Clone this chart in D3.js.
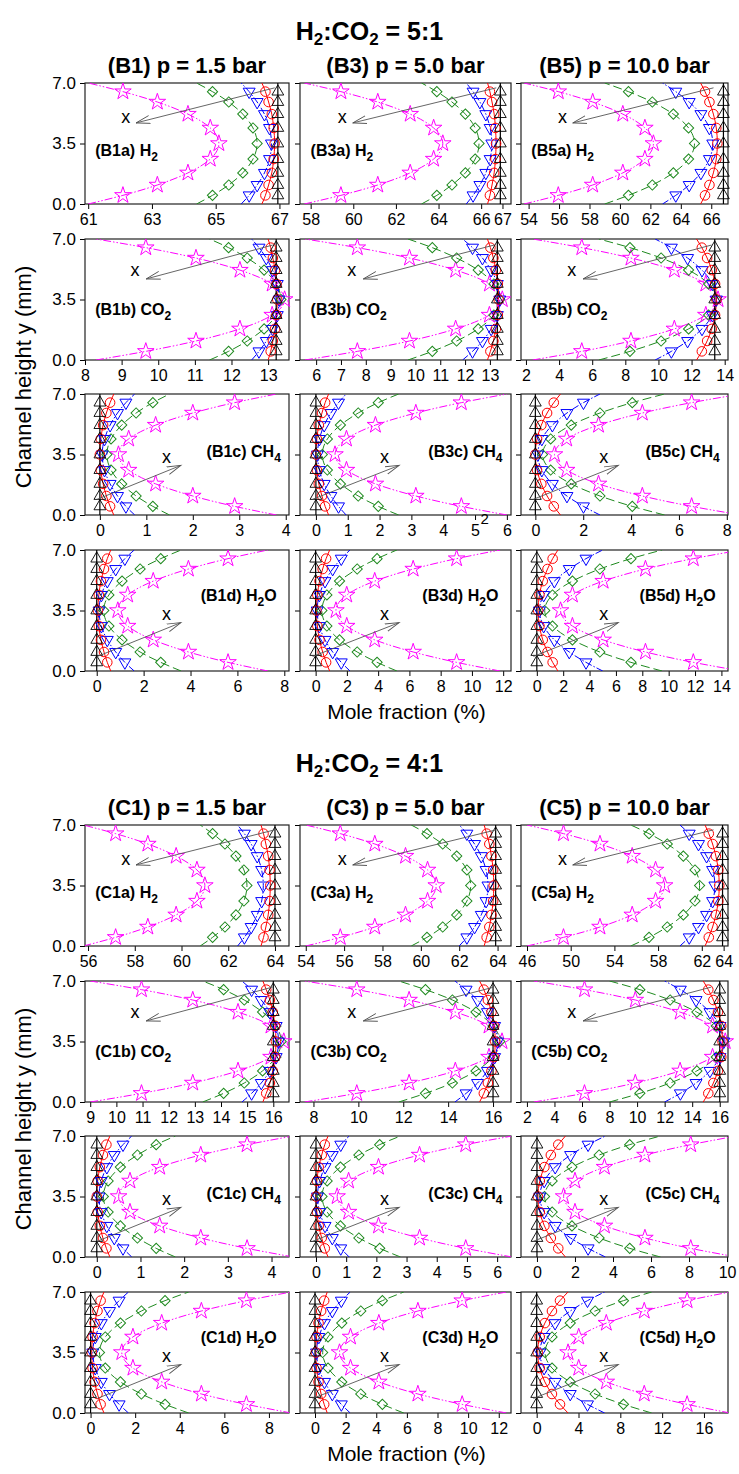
<!DOCTYPE html>
<html>
<head>
<meta charset="utf-8">
<script src="https://cdn.jsdelivr.net/npm/d3@7"></script>
<style>
  body { margin: 0; background: #fff; }
  text { font-family: "Liberation Sans", Arial, sans-serif; }
</style>
</head>
<body>
<div id="chart"></div>
<script>
// distance from the wall (mm), wall -> channel centre; profiles are mirrored about y = 3.5
var yDist = [0, 0.5, 1.1, 1.8, 2.6, 3.5];
var channelHeight = 7;

var ratios = ["5:1", "4:1"];
var groupLetters = ["B", "C"];
var pressures = ["1.5", "5.0", "10.0"];
var pressureIds = ["1", "3", "5"];
var rowLetters = ["a", "b", "c", "d"];
var species = [["H", "2", ""], ["CO", "2", ""], ["CH", "4", ""], ["H", "2", "O"]];

// x axis ranges and ticks [row][column]
var xDomainB = [
  [[60.9, 67.3], [57.5, 67.4], [53.5, 67.1]],
  [[8.0, 13.57], [5.35, 13.85], [1.7, 14.2]],
  [[-0.32, 4.07], [-0.5, 6.13], [-0.6, 8.05]],
  [[-0.5, 8.2], [-1.0, 12.5], [-1.2, 14.5]]
];
var xTicksB = [
  [[61, 63, 65, 67], [58, 60, 62, 64, 66, 67], [54, 56, 58, 60, 62, 64, 66]],
  [[8, 9, 10, 11, 12, 13], [6, 7, 8, 9, 10, 11, 12, 13], [2, 4, 6, 8, 10, 12, 14]],
  [[0, 1, 2, 3, 4], [0, 1, 2, 3, 4, 5, 6], [0, 2, 4, 6, 8]],
  [[0, 2, 4, 6, 8], [0, 2, 4, 6, 8, 10, 12], [0, 2, 4, 6, 8, 10, 12, 14]]
];
var xDomainC = [
  [[55.87, 64.6], [53.7, 64.7], [45.45, 64.4]],
  [[8.8, 16.6], [7.4, 16.8], [1.57, 16.6]],
  [[-0.27, 4.4], [-0.53, 6.46], [-0.84, 10.05]],
  [[-0.25, 8.9], [-0.98, 12.8], [-1.5, 18.3]]
];
var xTicksC = [
  [[56, 58, 60, 62, 64], [54, 56, 58, 60, 62, 64], [46, 50, 54, 58, 62, 64]],
  [[9, 10, 11, 12, 13, 14, 15, 16], [8, 10, 12, 14, 16], [2, 4, 6, 8, 10, 12, 14, 16]],
  [[0, 1, 2, 3, 4], [0, 1, 2, 3, 4, 5, 6], [0, 2, 4, 6, 8, 10]],
  [[0, 2, 4, 6, 8], [0, 2, 4, 6, 8, 10, 12], [0, 4, 8, 12, 16]]
];

// inlet composition (black line)
var inletB = [[66.95, 66.9, 66.8], [13.22, 13.3, 13.4], [0, 0, 0], [0, 0, 0]];
var inletC = [[64.0, 63.9, 63.9], [16.0, 16.0, 16.0], [0, 0, 0], [0, 0, 0]];

// profiles along x: red, blue, green, magenta  (values at yDist)
var B1a = [[66.45, 66.56, 66.66, 66.76, 66.82, 66.85], [65.8, 66.05, 66.3, 66.53, 66.69, 66.75], [64.4, 64.9, 65.41, 65.85, 66.17, 66.3], [61.0, 62.09, 63.17, 64.13, 64.83, 65.1]];
var B3a = [[66.3, 66.41, 66.51, 66.61, 66.67, 66.7], [65.3, 65.62, 65.94, 66.22, 66.42, 66.5], [63.2, 63.92, 64.63, 65.26, 65.72, 65.9], [57.7, 59.42, 61.15, 62.67, 63.77, 64.2]];
var B5a = [[65.3, 65.59, 65.88, 66.14, 66.33, 66.4], [62.8, 63.67, 64.55, 65.32, 65.88, 66.1], [59.0, 60.56, 62.13, 63.51, 64.51, 64.9], [53.7, 55.95, 58.21, 60.19, 61.64, 62.2]];
var B1b = [[13.0, 13.07, 13.13, 13.19, 13.23, 13.25], [12.55, 12.75, 12.95, 13.12, 13.25, 13.3], [11.4, 11.92, 12.43, 12.89, 13.22, 13.35], [8.3, 9.66, 11.03, 12.23, 13.11, 13.45]];
var B3b = [[12.9, 13.02, 13.14, 13.24, 13.32, 13.35], [11.9, 12.3, 12.7, 13.05, 13.3, 13.4], [9.7, 10.68, 11.66, 12.53, 13.16, 13.4], [5.55, 7.66, 9.76, 11.62, 12.98, 13.5]];
var B5b = [[12.3, 12.62, 12.94, 13.22, 13.42, 13.5], [9.8, 10.78, 11.76, 12.63, 13.26, 13.5], [6.4, 8.28, 10.16, 11.82, 13.03, 13.5], [2.4, 5.37, 8.34, 10.96, 12.86, 13.6]];
var B1c = [[0.3, 0.22, 0.14, 0.07, 0.02, 0], [0.75, 0.56, 0.38, 0.22, 0.1, 0.05], [1.5, 1.14, 0.78, 0.47, 0.24, 0.15], [3.8, 2.9, 2.0, 1.2, 0.62, 0.4]];
var B3c = [[0.4, 0.29, 0.19, 0.09, 0.03, 0], [0.95, 0.71, 0.47, 0.26, 0.11, 0.05], [2.6, 1.96, 1.33, 0.77, 0.36, 0.2], [6.0, 4.57, 3.14, 1.87, 0.96, 0.6]];
var B5c = [[1.05, 0.77, 0.49, 0.25, 0.07, 0], [2.7, 2.01, 1.32, 0.71, 0.27, 0.1], [5.4, 4.05, 2.7, 1.5, 0.64, 0.3], [8.6, 6.53, 4.47, 2.64, 1.31, 0.8]];
var B1d = [[0.6, 0.45, 0.31, 0.18, 0.09, 0.05], [1.6, 1.2, 0.81, 0.45, 0.2, 0.1], [3.6, 2.73, 1.85, 1.08, 0.52, 0.3], [7.3, 5.6, 3.91, 2.41, 1.32, 0.9]];
var B3d = [[0.9, 0.67, 0.45, 0.25, 0.11, 0.05], [2.2, 1.64, 1.09, 0.6, 0.24, 0.1], [5.2, 3.93, 2.66, 1.53, 0.72, 0.4], [11.8, 9.02, 6.24, 3.78, 1.99, 1.3]];
var B5d = [[1.6, 1.2, 0.81, 0.45, 0.2, 0.1], [5.0, 3.73, 2.46, 1.33, 0.52, 0.2], [9.5, 7.14, 4.78, 2.7, 1.19, 0.6], [15.5, 11.87, 8.24, 5.03, 2.7, 1.8]];

var C1a = [[63.4, 63.51, 63.61, 63.71, 63.77, 63.8], [62.4, 62.69, 62.98, 63.24, 63.43, 63.5], [60.8, 61.33, 61.86, 62.33, 62.67, 62.8], [55.8, 57.18, 58.56, 59.77, 60.66, 61.0]];
var C3a = [[63.3, 63.43, 63.57, 63.68, 63.77, 63.8], [62.0, 62.4, 62.8, 63.15, 63.4, 63.5], [59.5, 60.32, 61.14, 61.87, 62.4, 62.6], [54.0, 55.8, 57.6, 59.2, 60.35, 60.8]];
var C5a = [[62.3, 62.64, 62.99, 63.29, 63.51, 63.6], [60.0, 60.85, 61.7, 62.44, 62.99, 63.2], [55.5, 57.17, 58.84, 60.31, 61.38, 61.8], [46.0, 49.34, 52.68, 55.63, 57.77, 58.6]];
var C1b = [[15.6, 15.73, 15.87, 15.98, 16.07, 16.1], [14.8, 15.17, 15.54, 15.87, 16.11, 16.2], [13.3, 14.1, 14.89, 15.59, 16.1, 16.3], [9.0, 10.96, 12.92, 14.65, 15.91, 16.4]];
var C3b = [[15.4, 15.59, 15.77, 15.93, 16.05, 16.1], [14.3, 14.8, 15.31, 15.75, 16.07, 16.2], [11.8, 12.99, 14.19, 15.24, 16.0, 16.3], [7.6, 9.93, 12.26, 14.32, 15.82, 16.4]];
var C5b = [[14.8, 15.17, 15.54, 15.87, 16.11, 16.2], [12.0, 13.14, 14.28, 15.29, 16.02, 16.3], [8.0, 10.2, 12.4, 14.34, 15.75, 16.3], [2.5, 6.18, 9.87, 13.12, 15.48, 16.4]];
var C1c = [[0.3, 0.22, 0.14, 0.07, 0.02, 0], [0.8, 0.6, 0.4, 0.23, 0.1, 0.05], [1.8, 1.36, 0.93, 0.54, 0.26, 0.15], [4.5, 3.44, 2.38, 1.44, 0.76, 0.5]];
var C3c = [[0.4, 0.29, 0.19, 0.09, 0.03, 0], [1.1, 0.82, 0.54, 0.3, 0.12, 0.05], [2.8, 2.11, 1.42, 0.81, 0.37, 0.2], [6.5, 4.96, 3.43, 2.07, 1.08, 0.7]];
var C5c = [[1.5, 1.12, 0.73, 0.39, 0.15, 0.05], [3.6, 2.69, 1.77, 0.96, 0.38, 0.15], [6.5, 4.88, 3.27, 1.84, 0.8, 0.4], [10.5, 8.09, 5.68, 3.55, 2.0, 1.4]];
var C1d = [[0.6, 0.45, 0.31, 0.18, 0.09, 0.05], [1.7, 1.28, 0.85, 0.48, 0.21, 0.1], [4.4, 3.34, 2.28, 1.34, 0.66, 0.4], [9.0, 6.99, 4.97, 3.19, 1.9, 1.4]];
var C3d = [[0.8, 0.6, 0.4, 0.23, 0.1, 0.05], [2.3, 1.72, 1.13, 0.62, 0.25, 0.1], [5.8, 4.4, 2.99, 1.75, 0.85, 0.5], [12.5, 9.61, 6.72, 4.17, 2.32, 1.6]];
var C5d = [[3.0, 2.23, 1.46, 0.78, 0.29, 0.1], [6.5, 4.86, 3.21, 1.76, 0.71, 0.3], [11.0, 8.3, 5.59, 3.21, 1.47, 0.8], [18.5, 14.39, 10.29, 6.66, 4.02, 3.0]];

var profilesB = [[B1a, B3a, B5a], [B1b, B3b, B5b], [B1c, B3c, B5c], [B1d, B3d, B5d]];
var profilesC = [[C1a, C3a, C5a], [C1b, C3b, C5b], [C1c, C3c, C5c], [C1d, C3d, C5d]];

var groups = [
  { domains: xDomainB, ticks: xTicksB, inlet: inletB, profiles: profilesB },
  { domains: xDomainC, ticks: xTicksC, inlet: inletC, profiles: profilesC }
];

// ---- layout ----
var W = 739, H = 1474;
var colX = [[85, 289], [300, 511], [521, 728]];
var rowTop = [83, 239, 394, 550];
var panelH = 121;
var groupShift = [0, 742];
var titleY = [40, 772];

// arrow [tailX, tailY, headX, headY, labelX, labelY] as panel fractions
var arrowSpec = [
  [0.93, 0.04, 0.25, 0.33, 0.2, 0.28],
  [0.92, 0.05, 0.3, 0.33, 0.245, 0.26],
  [0.06, 0.87, 0.47, 0.59, 0.4, 0.52],
  [0.06, 0.88, 0.47, 0.6, 0.4, 0.53]
];
var labelSpec = [["start", 0.05, 0.6], ["start", 0.05, 0.63], ["end", 0.96, 0.52], ["end", 0.94, 0.42]];

var seriesStyle = [
  { color: "#ff0000", dash: null, sym: d3.symbolCircle, size: 72, rot: 0 },
  { color: "#0000ff", dash: "7,2,1.5,2", sym: d3.symbolTriangle, size: 62, rot: 180 },
  { color: "#1f8a1f", dash: "9,4", sym: d3.symbolSquare, size: 52, rot: 45 },
  { color: "#ff00ff", dash: "8,2,1.5,2,1.5,2", sym: d3.symbolStar, size: 85, rot: 0 }
];

var svg = d3.select("#chart").append("svg")
  .attr("width", W)
  .attr("height", H)
  .style("background", "#fff");

var defs = svg.append("defs");
defs.append("marker")
  .attr("id", "arrowHead")
  .attr("markerUnits", "userSpaceOnUse")
  .attr("markerWidth", 16).attr("markerHeight", 10)
  .attr("refX", 14).attr("refY", 5)
  .attr("orient", "auto")
  .append("path")
  .attr("d", "M0,1 L14,5 L0,9")
  .attr("fill", "none")
  .attr("stroke", "#555")
  .attr("stroke-width", 0.9);

function chemText(sel, prefix, sp, subSize) {
  sel.append("tspan").text(prefix + sp[0]);
  sel.append("tspan").attr("dy", 5).attr("font-size", subSize).text(sp[1]);
  if (sp[2]) sel.append("tspan").attr("dy", -5).text(sp[2]);
}

groups.forEach(function(grp, gi) {
  var sh = groupShift[gi];

  // group title
  var t = svg.append("text")
    .attr("x", W / 2).attr("y", titleY[gi])
    .attr("text-anchor", "middle")
    .attr("font-size", 25).attr("font-weight", "bold");
  t.append("tspan").text("H");
  t.append("tspan").attr("dy", 5).attr("font-size", 17).text("2");
  t.append("tspan").attr("dy", -5).text(":CO");
  t.append("tspan").attr("dy", 5).attr("font-size", 17).text("2");
  t.append("tspan").attr("dy", -5).text(" = " + ratios[gi]);

  // column titles
  pressures.forEach(function(p, c) {
    svg.append("text")
      .attr("x", (colX[c][0] + colX[c][1]) / 2)
      .attr("y", rowTop[0] + sh - 10)
      .attr("text-anchor", "middle")
      .attr("font-size", 22).attr("font-weight", "bold")
      .text("(" + groupLetters[gi] + pressureIds[c] + ") p = " + p + " bar");
  });

  // axis titles
  var midY = (rowTop[0] + rowTop[3] + panelH) / 2 + sh;
  svg.append("text")
    .attr("transform", "translate(31," + midY + ") rotate(-90)")
    .attr("text-anchor", "middle")
    .attr("font-size", 22)
    .text("Channel height y (mm)");
  svg.append("text")
    .attr("x", (colX[0][0] + colX[2][1]) / 2)
    .attr("y", rowTop[3] + panelH + sh + 48)
    .attr("text-anchor", "middle")
    .attr("font-size", 21)
    .text("Mole fraction (%)");

  for (var r = 0; r < 4; r++) {
    for (var c = 0; c < 3; c++) {
      drawPanel(gi, r, c);
    }
  }
});

function drawPanel(gi, r, c) {
  var grp = groups[gi];
  var x0 = colX[c][0], x1 = colX[c][1];
  var top = rowTop[r] + groupShift[gi];
  var bot = top + panelH;
  var xs = d3.scaleLinear().domain(grp.domains[r][c]).range([x0, x1]);
  var ys = d3.scaleLinear().domain([0, channelHeight]).range([bot, top]);

  var clipId = "clip" + gi + r + c;
  defs.append("clipPath").attr("id", clipId)
    .append("rect")
    .attr("x", x0).attr("y", top)
    .attr("width", x1 - x0).attr("height", panelH);

  var g = svg.append("g");

  // x axis
  var xa = g.append("g")
    .attr("transform", "translate(0," + bot + ")")
    .call(d3.axisBottom(xs).tickValues(grp.ticks[r][c]).tickSize(5).tickPadding(5).tickFormat(d3.format("d")));
  xa.select(".domain").remove();
  xa.selectAll("text").attr("font-size", 16).attr("font-family", "Liberation Sans, Arial, sans-serif");

  // y axis
  var ya = g.append("g")
    .attr("transform", "translate(" + x0 + ",0)")
    .call(d3.axisLeft(ys).tickValues([0, 3.5, 7]).tickSize(5).tickPadding(4)
      .tickFormat(c === 0 ? d3.format(".1f") : function() { return ""; }));
  ya.select(".domain").remove();
  ya.selectAll("text").attr("font-size", 17).attr("font-family", "Liberation Sans, Arial, sans-serif");

  // frame
  g.append("rect")
    .attr("x", x0).attr("y", top)
    .attr("width", x1 - x0).attr("height", panelH)
    .attr("fill", "none")
    .attr("stroke", "#222")
    .attr("stroke-width", 1.2);

  var plot = g.append("g").attr("clip-path", "url(#" + clipId + ")");
  var line = d3.line()
    .x(function(d) { return xs(d[0]); })
    .y(function(d) { return ys(d[1]); })
    .curve(d3.curveNatural);

  var prof = grp.profiles[r][c];
  // magenta first so black/red sit on top
  for (var s = 3; s >= 0; s--) {
    var vals = prof[s];
    var st = seriesStyle[s];
    var pts = yDist.map(function(d, i) { return [vals[i], d]; });
    var upper = yDist.slice(0, -1).map(function(d, i) { return [vals[i], channelHeight - d]; }).reverse();
    var all = pts.concat(upper);

    plot.append("path")
      .attr("d", line(all))
      .attr("fill", "none")
      .attr("stroke", st.color)
      .attr("stroke-width", 1)
      .attr("stroke-dasharray", st.dash);

    var sym = d3.symbol().type(st.sym).size(st.size);
    all.filter(function(p) { return p[1] > 0 && p[1] < channelHeight; }).forEach(function(p) {
      g.append("path")
        .attr("d", sym())
        .attr("transform", "translate(" + xs(p[0]) + "," + ys(p[1]) + ") rotate(" + st.rot + ")")
        .attr("fill", "none")
        .attr("stroke", st.color)
        .attr("stroke-width", 1);
    });
  }

  // inlet (black)
  var inlet = grp.inlet[r][c];
  plot.append("line")
    .attr("x1", xs(inlet)).attr("x2", xs(inlet))
    .attr("y1", ys(0)).attr("y2", ys(channelHeight))
    .attr("stroke", "#000").attr("stroke-width", 1.2);
  var tri = d3.symbol().type(d3.symbolTriangle).size(60);
  yDist.slice(1).concat(yDist.slice(1, -1).map(function(d) { return channelHeight - d; })).forEach(function(yv) {
    g.append("path")
      .attr("d", tri())
      .attr("transform", "translate(" + xs(inlet) + "," + ys(yv) + ")")
      .attr("fill", "none")
      .attr("stroke", "#000")
      .attr("stroke-width", 0.9);
  });

  // arrow of increasing x
  var a = arrowSpec[r];
  var pw = x1 - x0;
  g.append("line")
    .attr("x1", x0 + a[0] * pw).attr("y1", top + a[1] * panelH)
    .attr("x2", x0 + a[2] * pw).attr("y2", top + a[3] * panelH)
    .attr("stroke", "#555").attr("stroke-width", 0.9)
    .attr("marker-end", "url(#arrowHead)");
  g.append("text")
    .attr("x", x0 + a[4] * pw).attr("y", top + a[5] * panelH + 6)
    .attr("text-anchor", "middle")
    .attr("font-size", 18)
    .text("x");

  // panel label
  var ls = labelSpec[r];
  var lab = g.append("text")
    .attr("x", x0 + ls[1] * pw).attr("y", top + ls[2] * panelH)
    .attr("text-anchor", ls[0])
    .attr("font-size", 16).attr("font-weight", "bold");
  chemText(lab, "(" + groupLetters[gi] + pressureIds[c] + rowLetters[r] + ") ", species[r], 12);

  // stray "2" printed over the B3c axis in the original
  if (gi === 0 && r === 2 && c === 1) {
    g.append("text")
      .attr("x", xs(5.3)).attr("y", bot + 9)
      .attr("text-anchor", "middle")
      .attr("font-size", 15)
      .text("2");
  }
}
</script>
</body>
</html>
